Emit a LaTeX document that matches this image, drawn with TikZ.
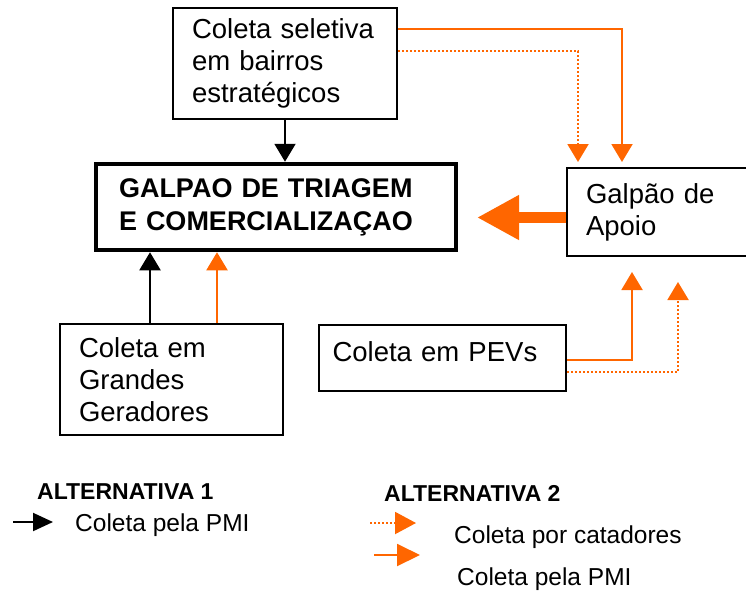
\documentclass[tikz,border=0pt]{standalone}
\usepackage{fontspec}
\setmainfont{Liberation Sans}
\usetikzlibrary{arrows.meta}
\definecolor{pmiorange}{HTML}{FF6600}
\tikzset{
	box/.style={draw=black, line width=2pt, align=left, inner xsep=19pt, inner ysep=0pt, font=\fontsize{27.5}{32}\selectfont},
	mainbox/.style={box, line width=4.5pt, inner xsep=23pt, font=\fontsize{27}{33}\selectfont\bfseries},
	tipsmall/.style={-{Triangle[length=18pt,width=21pt]}},
	pmiblack/.style={tipsmall, draw=black, line width=2pt},
	pmiorng/.style={tipsmall, draw=pmiorange, line width=2pt},
	catador/.style={pmiorng, dash pattern=on 2pt off 2pt},
	legtext/.style={anchor=base west, inner sep=0pt, font=\fontsize{24.5}{28}\selectfont},
	leghead/.style={anchor=base west, inner sep=0pt, font=\fontsize{23}{26}\selectfont\bfseries}
}
\begin{document}
\begin{tikzpicture}[x=1pt,y=-1pt]
	\useasboundingbox (0,0) rectangle (746,590);
	% caixas
	\node[box, text width=186pt, minimum height=111pt] (sel) at (285,63.5) {Coleta seletiva\\em bairros\\estratégicos};
	\node[mainbox, text width=314pt, minimum height=86pt] (galp) at (276,207) {GALPAO DE TRIAGEM\\E COMERCIALIZAÇAO};
	\node[box, text width=143pt, minimum height=88pt] (apoio) at (657.5,212) {Galpão de\\Apoio};
	\node[box, text width=185pt, minimum height=111pt] (grandes) at (171.5,379.5) {Coleta em\\Grandes\\Geradores};
	\node[box, inner xsep=13.5pt, text width=220pt, minimum height=66pt, text depth=12pt] (pevs) at (442.5,358) {Coleta em PEVs};
	% pontas livres
	\coordinate (pevtip) at (632,272);
	\coordinate (cattip) at (678,282);
	\coordinate (bigtip) at (477,217.5);
	% alternativa 1
	\draw[pmiblack] (sel.south) -- (sel.south |- galp.north);
	\draw[pmiblack] ([xshift=-21.5pt]grandes.north) -- ([xshift=-21.5pt]grandes.north |- galp.south);
	% alternativa 2
	\draw[pmiorng, shorten >=5pt] ([yshift=34.5pt]sel.east) -| ([xshift=-35.5pt]apoio.north);
	\draw[catador, shorten >=5pt] ([yshift=12.5pt]sel.east) -| ([xshift=-79.5pt]apoio.north);
	\draw[pmiorng] ([xshift=45.5pt]grandes.north) -- ([xshift=45.5pt]grandes.north |- galp.south);
	\draw[pmiorng] ([yshift=-2pt]pevs.east) -| (pevtip);
	\draw[catador] ([yshift=-14pt]pevs.east) -| (cattip);
	\draw[draw=pmiorange, line width=11pt, -{Triangle[length=42pt,width=42pt]}] ([yshift=-5.5pt]apoio.west) -- (bigtip);
	% legenda
	\node[leghead] (alt1) at (37,499) {ALTERNATIVA 1};
	\node[legtext] (pmi1) at (75,531.5) {Coleta pela PMI};
	\coordinate (l1a) at (13,522);
	\coordinate (l1b) at (53,522);
	\draw[line width=2pt, -{Triangle[length=20pt,width=18pt]}] (l1a) -- (l1b);
	\node[leghead] (alt2) at (384,501) {ALTERNATIVA 2};
	\node[legtext] (cat2) at (454,543.5) {Coleta por catadores};
	\node[legtext] (pmi2) at (457,585.5) {Coleta pela PMI};
	\coordinate (l2a) at (370,523);
	\coordinate (l2b) at (416,523);
	\coordinate (l3a) at (374,555);
	\coordinate (l3b) at (420,555);
	\draw[catador, -{Triangle[length=21pt,width=22pt]}] (l2a) -- (l2b);
	\draw[pmiorng, -{Triangle[length=23pt,width=22pt]}] (l3a) -- (l3b);
\end{tikzpicture}
\end{document}
